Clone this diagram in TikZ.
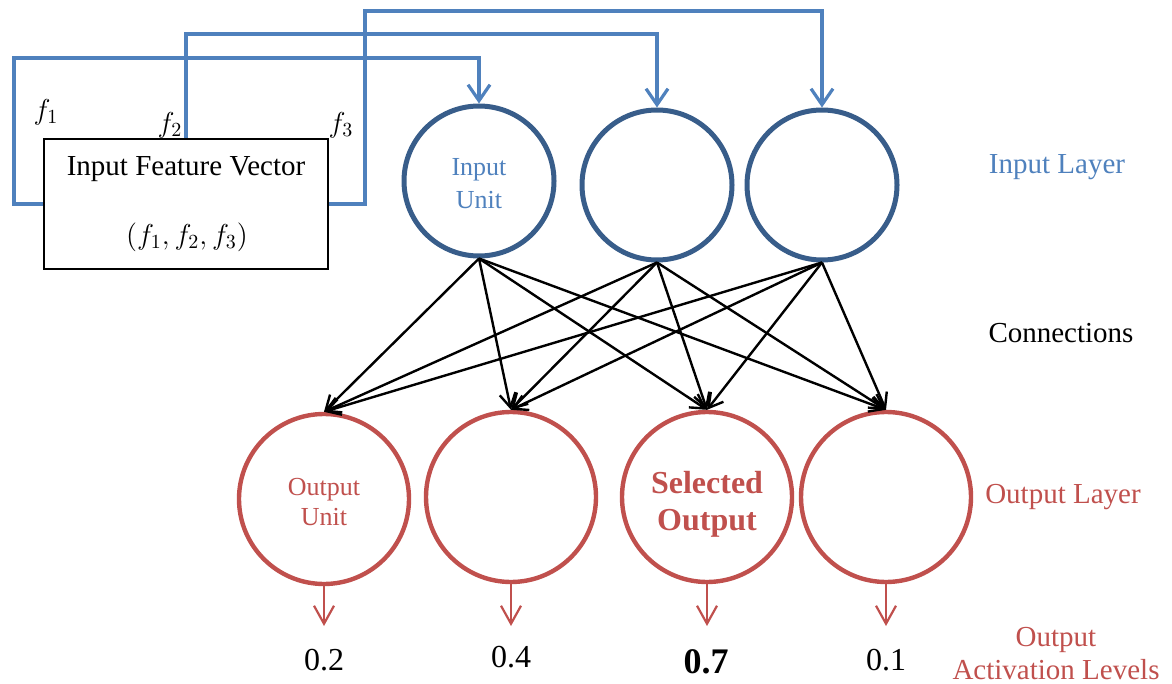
\documentclass[tikz,border=0pt]{standalone}
\usepackage{fontspec}
\setmainfont{Liberation Serif}
\usetikzlibrary{arrows.meta}
\definecolor{lblue}{HTML}{4F81BD}
\definecolor{dblue}{HTML}{385D8A}
\definecolor{ored}{HTML}{C0504D}
\begin{document}
\begin{tikzpicture}[x=0.5pt,y=-0.5pt,
 inunit/.style={circle,draw=dblue,line width=2.5pt,minimum size=75pt,inner sep=0pt},
 outunit/.style={circle,draw=ored,line width=2.2pt,minimum size=85pt,inner sep=0pt},
 intext/.style={text=lblue,align=center,font=\fontsize{13}{16.5}\selectfont},
 outtext/.style={text=ored,align=center,font=\fontsize{13}{15}\selectfont},
 seltext/.style={text=ored,align=center,font=\bfseries\fontsize{16}{18.5}\selectfont},
 conn/.style={line width=1.2pt,-{Straight Barb[length=7pt,width=8pt]}},
 feed/.style={draw=lblue,line width=1.6pt,-{Straight Barb[length=8pt,width=11pt]}},
 outarrow/.style={draw=ored,line width=1.1pt,-{Straight Barb[length=9pt,width=10pt]}},
 lbl/.style={font=\fontsize{14.5}{16.5}\selectfont},
 val/.style={font=\fontsize{16}{18}\selectfont},
 ivbox/.style={draw,line width=0.8pt,minimum width=142pt,minimum height=65pt,inner sep=0pt},
]
\useasboundingbox (0,0) rectangle (1172,684);

% input feature vector box
\node[ivbox] (ifv) at (186,204) {};
\node[lbl] (ifvt) at (186,169) {Input Feature Vector};
\node[lbl] (ifvm) at (187,237) {$(f_1,f_2,f_3)$};

% input units
\node[inunit] (in1) at (479,181) {};
\node[inunit] (in2) at (657,185) {};
\node[inunit] (in3) at (822,185) {};
\node[intext] (in1t) at (479,184) {Input\\Unit};

% output units
\node[outunit] (out1) at (324,499) {};
\node[outunit] (out2) at (511,497) {};
\node[outunit] (out3) at (707,497) {};
\node[outunit] (out4) at (886,497) {};
\node[outtext] (out1t) at (324,502) {Output\\Unit};
\node[seltext] (out3t) at (707,504) {Selected\\Output};

% feature lines
\coordinate (c1a) at (14,204);
\coordinate (c1b) at (14,58);
\coordinate (c2a) at (186,34);
\coordinate (c3a) at (365,204);
\coordinate (c3b) at (365,11);
\draw[feed] (ifv.west) -- (c1a) -- (c1b) -| (in1.north);
\draw[feed] (ifv.north) -- (c2a) -| (in2.north);
\draw[feed] (ifv.east) -- (c3a) -- (c3b) -| (in3.north);

\node[lbl] (f1) at (46,112) {$f_1$};
\node[lbl] (f2) at (170,125) {$f_2$};
\node[lbl] (f3) at (341,125) {$f_3$};

% connections
\foreach \i in {1,2,3}{
  \foreach \o in {1,2,3,4}{
    \draw[conn] (in\i.south) -- (out\o.north);
  }
}

% output arrows and values
\coordinate (v1) at (324,626);
\coordinate (v2) at (511,626);
\coordinate (v3) at (707,626);
\coordinate (v4) at (886,626);
\foreach \o in {1,2,3,4}{
  \draw[outarrow] (out\o.south) -- (v\o);
}
\node[val] (n1) at (324,660) {0.2};
\node[val] (n2) at (511,657) {0.4};
\node[font=\bfseries\fontsize{18}{20}\selectfont] (n3) at (706,662) {0.7};
\node[val] (n4) at (886,660) {0.1};

% side labels
\node[lbl,text=lblue] (lin) at (1057,167) {Input Layer};
\node[lbl] (lconn) at (1061,333) {Connections};
\node[lbl,text=ored] (lout) at (1063,497) {Output Layer};
\node[lbl,text=ored,align=center] (lact) at (1056,654) {Output\\Activation Levels};
\end{tikzpicture}
\end{document}
